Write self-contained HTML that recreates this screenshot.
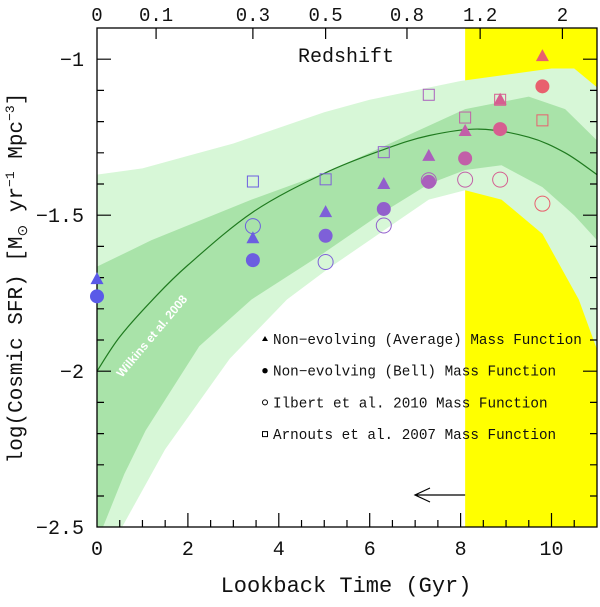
<!DOCTYPE html>
<html><head><meta charset="utf-8"><style>
body{margin:0;background:#fff}
svg text{font-family:"Liberation Mono",monospace;fill:#111}
</style></head><body>
<svg id="chart" width="600" height="602" viewBox="0 0 600 602" xmlns="http://www.w3.org/2000/svg">
<defs><clipPath id="plotclip"><rect x="97" y="28" width="500" height="499"/></clipPath></defs>
<g id="plot" clip-path="url(#plotclip)"></g>
<g id="axes"></g>
<g id="marks"></g>
</svg>
<script>
// ---- data ----
const times = [0, 3.43, 5.03, 6.31, 7.30, 8.10, 8.87, 9.80];
const triVals = [-1.705, -1.574, -1.49, -1.40, -1.31, -1.23, -1.13, -0.99];
const filledVals = [-1.76, -1.644, -1.566, -1.48, -1.393, -1.318, -1.224, -1.087];
const openTimes = [3.43, 5.03, 6.31, 7.30, 8.10, 8.87, 9.80];
const openVals = [-1.535, -1.65, -1.533, -1.388, -1.386, -1.386, -1.463];
const squareVals = [-1.392, -1.385, -1.298, -1.114, -1.187, -1.13, -1.196];
const pointColors = ['#5a5ae8','#6c5ee0','#7e60d8','#925fcc','#aa5fbc','#c25fa8','#d65e90','#e8606e'];
const outerUpperT = [0,1,2,3,4,5,6,7,8,9,10,10.5,11];
const outerUpperV = [-1.37,-1.35,-1.31,-1.27,-1.22,-1.17,-1.13,-1.10,-1.07,-1.05,-1.03,-1.03,-1.09];
const outerLowerT = [0,0.55,1.5,2.92,4.18,5.1,6.3,7.3,8.1,8.9,9.8,10.6,11];
const outerLowerV = [-2.5,-2.5,-2.25,-1.96,-1.77,-1.67,-1.55,-1.45,-1.42,-1.45,-1.56,-1.77,-1.93];
const innerUpperT = [0,1.2,3.4,5,6.3,8.1,9.5,10.3,11];
const innerUpperV = [-1.665,-1.58,-1.45,-1.365,-1.28,-1.16,-1.12,-1.16,-1.26];
const innerLowerT = [0,0.13,0.6,1.07,2.25,3.4,5,6.3,7.3,8.1,8.9,9.8,10.5,11];
const innerLowerV = [-2.5,-2.5,-2.33,-2.19,-1.92,-1.77,-1.62,-1.49,-1.40,-1.355,-1.34,-1.41,-1.5,-1.58];
const curveT = [0,0.5,1.23,2,3.43,5,6.3,7.3,8.4,9.5,10.3,11];
const curveV = [-2.0,-1.89,-1.77,-1.66,-1.49,-1.366,-1.29,-1.245,-1.224,-1.25,-1.30,-1.37];
const zLabels = ['0','0.1','0.3','0.5','0.8','1.2','2'];
const zTimes = [0,1.3,3.43,5.03,6.82,8.43,10.24];
const xTicks = [0,2,4,6,8,10];
const yTicks = [-1,-1.5,-2,-2.5];
const yTickLabels = ['\u22121','\u22121.5','\u22122','\u22122.5'];
const yellowStart = 8.1;

// ---- scales ----
const X = t => 97 + t*45.45;
const Y = v => 28 + (-0.9 - v)*312;
const NS = 'http://www.w3.org/2000/svg';
const plot = document.getElementById('plot'), axes = document.getElementById('axes'), marks = document.getElementById('marks');
function mk(tag, attrs, parent){const e=document.createElementNS(NS,tag);for(const k in attrs)e.setAttribute(k,attrs[k]);parent.appendChild(e);return e;}

let yr = mk('rect',{x:X(yellowStart),y:28,width:600-X(yellowStart),height:499,fill:'#ffff00'},plot);



function band(uT,uV,lT,lV,fill,name){
  let pts=uT.map((t,i)=>X(t)+','+Y(uV[i]));
  for(let i=lT.length-1;i>=0;i--)pts.push(X(lT[i])+','+Y(lV[i]));
  const p=mk('polygon',{points:pts.join(' '),fill:fill},plot);
  
  
}
band(outerUpperT,outerUpperV,outerLowerT,outerLowerV,'#d7f7d7','outer-confidence-band');
band(innerUpperT,innerUpperV,innerLowerT,innerLowerV,'#a9e3a9','inner-confidence-band');

(function(){
  const P=curveT.map((t,i)=>[X(t),Y(curveV[i])]);
  let d='M'+P[0][0]+','+P[0][1];
  for(let i=0;i<P.length-1;i++){
    const p0=P[Math.max(0,i-1)],p1=P[i],p2=P[i+1],p3=P[Math.min(P.length-1,i+2)];
    d+=` C${p1[0]+(p2[0]-p0[0])/6},${p1[1]+(p2[1]-p0[1])/6} ${p2[0]-(p3[0]-p1[0])/6},${p2[1]-(p3[1]-p1[1])/6} ${p2[0]},${p2[1]}`;
  }
  const c=mk('path',{d:d,fill:'none',stroke:'#1f7a1f','stroke-width':1.2},plot);
  
  
})();
let wl=mk('text',{x:0,y:0,transform:'translate(122,378) rotate(-50)','font-size':12,'font-weight':'bold',style:'fill:#fff;font-family:"Liberation Sans",sans-serif'},plot);
wl.textContent='Wilkins et al. 2008';



let ar=mk('path',{d:`M${X(yellowStart)},495 L415,495 M430,488 L415,495 L430,502`,fill:'none',stroke:'#000','stroke-width':1.2},plot);



const legendLabels=['Non\u2212evolving (Average) Mass Function','Non\u2212evolving (Bell) Mass Function','Ilbert et al. 2010 Mass Function','Arnouts et al. 2007 Mass Function'];
legendLabels.forEach((lab,i)=>{
  const y=339+i*31.7;
  let sym;
  if(i==0)sym=mk('polygon',{points:`265,${y-3} 262,${y+2} 268,${y+2}`,fill:'#000'},plot);
  else if(i==1)sym=mk('circle',{cx:265,cy:y,r:2.7,fill:'#000'},plot);
  else if(i==2)sym=mk('circle',{cx:265,cy:y,r:2.5,fill:'none',stroke:'#000'},plot);
  else sym=mk('rect',{x:262.5,y:y-2.5,width:5,height:5,fill:'none',stroke:'#000'},plot);
  
  
  const tx=mk('text',{x:273,y:y+5,'font-size':14.3},plot);
  tx.textContent=lab;
  
  
});

let fr=mk('rect',{x:97,y:28,width:500,height:499,fill:'none',stroke:'#000','stroke-width':1.3},axes);


let tk='';
for(let t=0.5;t<11;t+=0.5){const x=X(t),L=(t%2===0)?14:7;tk+=`M${x},527 v${-L} `;}
for(let k=0;k<=15;k++){const vv=Math.round((-0.9-k*0.1)*10)/10;if(vv<=-2.5||vv>=-0.9)continue;const y=Y(vv);const L=(Math.abs(vv*2-Math.round(vv*2))<1e-6)?14:7;tk+=`M97,${y} h${L} M597,${y} h${-L} `;}
zTimes.forEach(t=>{if(t>0)tk+=`M${X(t)},28 v11 `;});
let tp=mk('path',{d:tk,stroke:'#000','stroke-width':1.2,fill:'none'},axes);


xTicks.forEach(t=>{const e=mk('text',{x:X(t),y:555,'font-size':20,'text-anchor':'middle'},axes);e.textContent=String(t);
  
  });
yTicks.forEach((v,i)=>{const e=mk('text',{x:84,y:Y(v)+7,'font-size':20,'text-anchor':'end'},axes);e.textContent=yTickLabels[i];
  
  });
zTimes.forEach((t,i)=>{const e=mk('text',{x:X(t),y:21,'font-size':19,'text-anchor':'middle'},axes);e.textContent=zLabels[i];
  
  });
let rs=mk('text',{x:346,y:62,'font-size':20,'text-anchor':'middle'},axes);rs.textContent='Redshift';


let xt=mk('text',{x:346,y:592,'font-size':22,'text-anchor':'middle'},axes);xt.textContent='Lookback Time (Gyr)';


let yt=mk('text',{x:0,y:0,transform:'translate(22,278) rotate(-90)','font-size':21,'text-anchor':'middle'},axes);
yt.innerHTML='log(Cosmic SFR) [M<tspan font-size="14" dy="5">\u2299</tspan><tspan dy="-5"> yr</tspan><tspan font-size="13" dy="-8">\u22121</tspan><tspan dy="8"> Mpc</tspan><tspan font-size="13" dy="-8">\u22123</tspan><tspan dy="8">]</tspan>';



// markers (not clipped, drawn over axes)
times.forEach((t,i)=>{
  const x=X(t),ty=Y(triVals[i]);
  const tri=mk('polygon',{points:`${x},${ty-7} ${x-6.5},${ty+5} ${x+6.5},${ty+5}`,fill:pointColors[i]},marks);
  
  
  const c=mk('circle',{cx:x,cy:Y(filledVals[i]),r:7,fill:pointColors[i]},marks);
  
  
});
openTimes.forEach((t,i)=>{
  const col=pointColors[i+1];
  const o=mk('circle',{cx:X(t),cy:Y(openVals[i]),r:7.5,fill:'none',stroke:col,'stroke-width':1},marks);
  
  
  const s=mk('rect',{x:X(t)-5.5,y:Y(squareVals[i])-5.5,width:11,height:11,fill:'none',stroke:col,'stroke-width':1},marks);
  
  
});
</script>
</body></html>
